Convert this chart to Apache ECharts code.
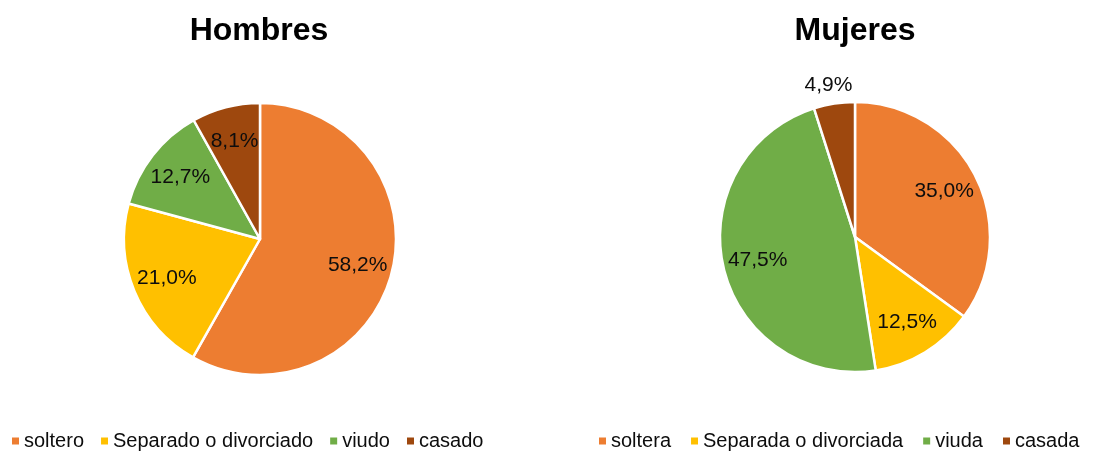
<!DOCTYPE html>
<html>
<head>
<meta charset="utf-8">
<script src="https://cdn.jsdelivr.net/npm/echarts@6/dist/echarts.min.js"></script>
<style>
  html, body { margin: 0; padding: 0; background: #fff; }
  #chart { width: 1118px; height: 453px; }
</style>
</head>
<body>
<div id="chart"></div>
<script>
// values in percent, clockwise from 12 o'clock
const menNames = ['soltero', 'Separado o divorciado', 'viudo', 'casado'];
const menValues = [58.2, 21.0, 12.7, 8.1];
const womenNames = ['soltera', 'Separada o divorciada', 'viuda', 'casada'];
const womenValues = [35.0, 12.5, 47.5, 4.9];
const colors = ['#ED7D31', '#FFC000', '#70AD47', '#9E480E'];

const font = 'Liberation Sans, Arial, sans-serif';

function toData(names, values) {
  return names.map((n, i) => ({ name: n, value: values[i] }));
}

function pieSeries(center, r, names, values) {
  return {
    type: 'pie',
    center: center,
    radius: [0, r],
    startAngle: 90,
    clockwise: true,
    animation: false,
    label: { show: false },
    labelLine: { show: false },
    itemStyle: { borderColor: '#fff', borderWidth: 2.5 },
    emphasis: { disabled: true },
    data: toData(names, values)
  };
}

// transparent ring carrying the data labels, so they sit ~72% out
function labelSeries(center, r, names, values, outsideIdx) {
  const data = toData(names, values).map((d, i) => {
    if (i === outsideIdx) {
      d.label = { position: 'outside', distanceToLabelLine: -21 };
      d.labelLine = { show: false, length: 19, length2: 0 };
    }
    return d;
  });
  return {
    type: 'pie',
    center: center,
    radius: [Math.round(r * 0.44), r],
    startAngle: 90,
    clockwise: true,
    animation: false,
    silent: true,
    itemStyle: { color: 'rgba(0,0,0,0)', borderWidth: 0 },
    emphasis: { disabled: true },
    label: {
      show: true,
      position: 'inside',
      formatter: p => p.value.toFixed(1).replace('.', ',') + '%',
      fontFamily: font,
      fontSize: 21,
      color: '#0d0d0d'
    },
    labelLine: { show: false },
    data: data
  };
}

const chart = echarts.init(document.getElementById('chart'), null, { renderer: 'canvas' });

const legendBase = {
  orient: 'horizontal',
  icon: 'rect',
  itemWidth: 7,
  itemHeight: 7,
  padding: 0,
  top: 431,
  itemStyle: { borderWidth: 0 },
  textStyle: { fontFamily: font, fontSize: 20, color: '#0d0d0d' },
  selectedMode: false
};

const titleStyle = { fontFamily: font, fontSize: 32, fontWeight: 'bold', color: '#000' };

chart.setOption({
  backgroundColor: '#fff',
  color: colors,
  title: [
    { text: 'Hombres', left: 259, top: 15, padding: 0, textAlign: 'center', textStyle: titleStyle },
    { text: 'Mujeres', left: 855, top: 15, padding: 0, textAlign: 'center', textStyle: titleStyle }
  ],
  legend: [
    Object.assign({}, legendBase, { left: 12, itemGap: 17, data: menNames }),
    Object.assign({}, legendBase, { left: 599, itemGap: 20, data: womenNames })
  ],
  series: [
    pieSeries([260, 239], 136, menNames, menValues),
    labelSeries([260, 239], 136, menNames, menValues, -1),
    pieSeries([855, 237], 135, womenNames, womenValues),
    labelSeries([855, 237], 135, womenNames, womenValues, 3)
  ]
});
</script>
</body>
</html>
